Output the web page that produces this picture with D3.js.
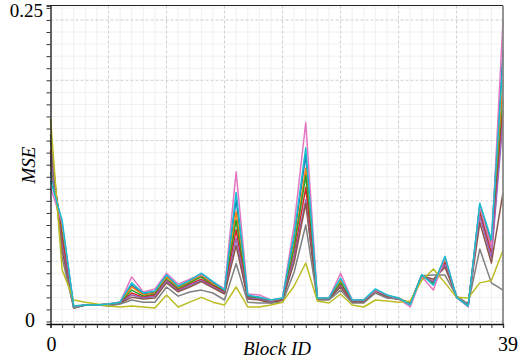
<!DOCTYPE html>
<html><head><meta charset="utf-8">
<script src="https://cdn.jsdelivr.net/npm/d3@7"></script>
<style>html,body{margin:0;padding:0;background:#fff;}svg{display:block;}</style>
</head><body>
<script>
// ---- data ----
const blockIds = d3.range(0, 40);
const xTickLabels = ["0", "39"];
const yTickLabels = ["0", "0.25"];
const seriesNames = ["s1","s2","s3","s4","s5","s6","s7","s8","s9","s10"];
const colors = ["#1f77b4","#ff7f0e","#2ca02c","#d62728","#9467bd","#8c564b","#e377c2","#7f7f7f","#bcbd22","#17becf"];

const s1 = [0.124,0.080,0.012,0.0137,0.0137,0.0145,0.016,0.030,0.0228,0.0245,0.038,0.0286,0.0336,0.0385,0.032,0.026,0.101,0.021,0.020,0.017,0.0187,0.069,0.138,0.0195,0.0195,0.034,0.0178,0.0178,0.026,0.021,0.0195,0.0137,0.0385,0.031,0.053,0.020,0.0128,0.097,0.065,0.225];
const s2 = [0.130,0.076,0.012,0.0137,0.0137,0.0145,0.016,0.0286,0.022,0.0236,0.037,0.0278,0.033,0.038,0.031,0.0253,0.091,0.020,0.0195,0.017,0.0187,0.063,0.127,0.0195,0.0195,0.0336,0.017,0.017,0.026,0.021,0.0195,0.0145,0.0385,0.032,0.051,0.020,0.0128,0.094,0.062,0.200];
const s3 = [0.134,0.072,0.012,0.0137,0.0137,0.0145,0.0153,0.026,0.021,0.0228,0.035,0.027,0.032,0.037,0.030,0.0253,0.084,0.020,0.0195,0.016,0.0187,0.061,0.121,0.0195,0.0187,0.032,0.017,0.017,0.026,0.021,0.0187,0.0145,0.038,0.032,0.049,0.020,0.0137,0.092,0.059,0.184];
const s4 = [0.142,0.068,0.012,0.0137,0.0137,0.0137,0.0153,0.0236,0.020,0.022,0.034,0.026,0.031,0.035,0.0294,0.0245,0.076,0.0195,0.0187,0.016,0.0178,0.055,0.111,0.0187,0.0187,0.030,0.017,0.017,0.0253,0.020,0.0187,0.0145,0.038,0.033,0.0485,0.020,0.0137,0.090,0.056,0.175];
const s5 = [0.138,0.063,0.0112,0.0137,0.0137,0.0137,0.0153,0.022,0.0195,0.021,0.0336,0.0253,0.030,0.034,0.0286,0.0236,0.069,0.0195,0.0187,0.016,0.0178,0.053,0.101,0.0187,0.0187,0.0294,0.016,0.016,0.0253,0.020,0.0187,0.0145,0.038,0.033,0.047,0.020,0.0137,0.087,0.053,0.167];
const s6 = [0.150,0.059,0.0112,0.0137,0.0137,0.0137,0.0153,0.020,0.0187,0.0195,0.032,0.0245,0.0286,0.033,0.0278,0.0228,0.063,0.0187,0.0178,0.0153,0.0178,0.049,0.098,0.0187,0.0187,0.0286,0.016,0.016,0.0253,0.020,0.0187,0.0153,0.038,0.035,0.045,0.021,0.0137,0.082,0.0485,0.107];
const s7 = [0.111,0.082,0.0128,0.0137,0.0137,0.0145,0.016,0.037,0.0245,0.027,0.040,0.031,0.035,0.039,0.033,0.027,0.124,0.0228,0.022,0.0178,0.0195,0.080,0.165,0.0195,0.0195,0.040,0.0178,0.0178,0.026,0.022,0.0187,0.012,0.037,0.026,0.053,0.020,0.012,0.095,0.061,0.250];
const s8 = [0.155,0.053,0.0112,0.0137,0.0137,0.0128,0.0145,0.0178,0.016,0.016,0.0286,0.021,0.0245,0.026,0.0236,0.0178,0.048,0.016,0.0153,0.0153,0.016,0.041,0.080,0.0178,0.0178,0.026,0.0153,0.0153,0.0236,0.0195,0.0187,0.0153,0.038,0.0385,0.0385,0.021,0.0145,0.060,0.032,0.026];
const s9 = [0.168,0.043,0.0178,0.016,0.0145,0.0128,0.012,0.0128,0.012,0.0112,0.022,0.012,0.016,0.020,0.016,0.0137,0.0286,0.012,0.012,0.0137,0.016,0.0294,0.0485,0.017,0.0153,0.0228,0.0137,0.012,0.0178,0.017,0.016,0.017,0.034,0.0435,0.032,0.020,0.0195,0.032,0.034,0.059];
const s10 = [0.117,0.084,0.0128,0.0137,0.0137,0.0145,0.016,0.032,0.0236,0.0253,0.0385,0.0294,0.034,0.040,0.033,0.026,0.107,0.022,0.020,0.0178,0.0195,0.072,0.144,0.0195,0.0195,0.036,0.0178,0.0178,0.027,0.022,0.0195,0.0137,0.039,0.030,0.054,0.020,0.0128,0.098,0.068,0.217];
const seriesValues = [s1,s2,s3,s4,s5,s6,s7,s8,s9,s10];

// ---- layout ----
const W = 521, H = 360;
const svg = d3.select("body").append("svg").attr("width", W).attr("height", H);

const x = d3.scaleLinear().domain([0, 39]).range([50.5, 503]);
const y = d3.scaleLinear().domain([-0.0021, 0.262]).range([324, 5.5]);
const [x0, x1] = x.range();
const [yb, yt] = y.range();

// minor grid
const g = svg.append("g");
g.selectAll("line.mx").data(d3.range(1, 39).filter(d => d % 5)).join("line")
  .attr("x1", d => x(d)).attr("x2", d => x(d)).attr("y1", yt).attr("y2", yb)
  .attr("stroke", "#f0f0f0").attr("stroke-width", 1);
g.selectAll("line.my").data(d3.range(1, 27).map(d => d / 100).filter(d => Math.round(d * 100) % 5)).join("line")
  .attr("y1", d => y(d)).attr("y2", d => y(d)).attr("x1", x0).attr("x2", x1)
  .attr("stroke", "#f0f0f0").attr("stroke-width", 1);
// major grid (dashed)
g.selectAll("line.Mx").data([5,10,15,20,25,30,35]).join("line")
  .attr("x1", d => x(d)).attr("x2", d => x(d)).attr("y1", yt).attr("y2", yb)
  .attr("stroke", "#cfcfcf").attr("stroke-width", 1).attr("stroke-dasharray", "3,2");
svg.append("g").selectAll("line").data([0, 0.05, 0.10, 0.15, 0.20, 0.25]).join("line")
  .attr("y1", d => y(d)).attr("y2", d => y(d)).attr("x1", x0).attr("x2", x1)
  .attr("stroke", "#cfcfcf").attr("stroke-width", 1).attr("stroke-dasharray", "3,2");

// lines
const line = d3.line().x((d, i) => x(blockIds[i])).y(d => y(d));
svg.append("g").selectAll("path").data(seriesValues).join("path")
  .attr("d", d => line(d)).attr("fill", "none")
  .attr("stroke", (d, i) => colors[i]).attr("stroke-width", 1.5)
  .attr("stroke-linejoin", "round");

// frame
svg.append("line").attr("x1", x0).attr("x2", x1).attr("y1", yt).attr("y2", yt).attr("stroke", "#222").attr("stroke-width", 1.2);
svg.append("line").attr("x1", x1).attr("x2", x1).attr("y1", yt).attr("y2", yb).attr("stroke", "#888").attr("stroke-width", 1.8);

// axes
const xAxis = d3.axisBottom(x).tickValues(d3.range(0, 40)).tickSize(4).tickFormat("");
const xg = svg.append("g").attr("transform", `translate(0,${yb})`).call(xAxis);
const yAxis = d3.axisLeft(y).tickValues(d3.range(0, 27).map(d => d / 100)).tickSize(4).tickFormat("");
const yg = svg.append("g").attr("transform", `translate(${x0},0)`).call(yAxis);
[xg, yg].forEach(a => { a.select(".domain").attr("stroke", "#111").attr("stroke-width", 1.3); a.selectAll(".tick line").attr("stroke", "#333"); });

// tick labels
const txt = (xx, yy, s, anchor, size, italic) => svg.append("text")
  .attr("x", xx).attr("y", yy).attr("text-anchor", anchor)
  .style("font-family", '"Liberation Serif"').style("font-size", size + "px")
  .style("font-style", italic ? "italic" : "normal").attr("fill", "#000").text(s);
txt(x(0) + 1, 351, xTickLabels[0], "middle", 20);
txt(x(39) + 5, 351, xTickLabels[1], "middle", 20);
txt(35, y(0) + 6, yTickLabels[0], "end", 20);
txt(43, 17, yTickLabels[1], "end", 19);

// axis titles
txt(277, 355, "Block ID", "middle", 19, true);
svg.append("text").attr("transform", "translate(35,165) rotate(-90)").attr("text-anchor", "middle")
  .style("font-family", '"Liberation Serif"').style("font-size", "19px").style("font-style", "italic").text("MSE");
</script>
</body></html>
